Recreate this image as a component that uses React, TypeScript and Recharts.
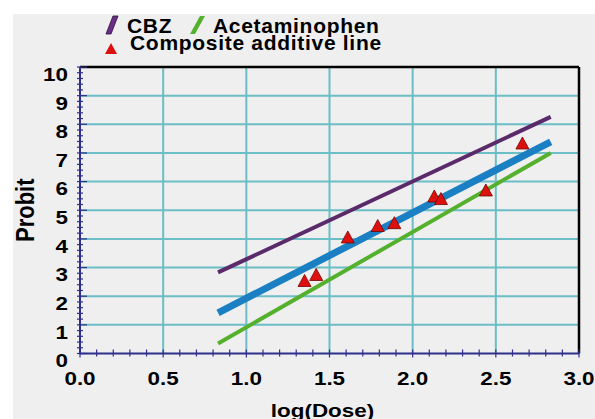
import { ComposedChart, Line, Scatter, XAxis, YAxis, ReferenceLine } from "recharts";

// fitted probit lines (two end points each)
const lineDose = [0.83, 2.83];
const cbzProbit = [2.83, 8.26];
const acetaminophenProbit = [0.35, 7.0];
const additiveProbit = [1.42, 7.39];

// composite additive line points
const pointDose = [1.35, 1.42, 1.61, 1.79, 1.89, 2.13, 2.17, 2.44, 2.66];
const pointProbit = [2.53, 2.74, 4.05, 4.45, 4.55, 5.48, 5.39, 5.69, 7.33];

const xTicks = [0, 0.5, 1, 1.5, 2, 2.5, 3];
const yTicks = [0, 1, 2, 3, 4, 5, 6, 7, 8, 9, 10];
const xAllTicks = Array.from({ length: 31 }, (_, i) => +(i * 0.1).toFixed(1));
const yAllTicks = Array.from({ length: 51 }, (_, i) => +(i * 0.2).toFixed(1));

const AXIS = "#2f2f8c";
const GRID = "#6bbdc6";
const FONT = "'Liberation Sans', Arial, sans-serif";

const toLine = (ys: number[]) => lineDose.map((x, i) => ({ x, y: ys[i] }));
const cbzData = toLine(cbzProbit);
const acetData = toLine(acetaminophenProbit);
const additiveData = toLine(additiveProbit);
const pointData = pointDose.map((x, i) => ({ x, y: pointProbit[i] }));

const isMajor = (list: number[], v: number) => list.some((t) => Math.abs(t - v) < 1e-6);

const XTick = (props: any) => {
  const { x, y, payload } = props;
  const major = isMajor(xTicks, payload.value);
  return (
    <g>
      <line x1={x} x2={x} y1={y - 4} y2={y + (major ? 4 : 3)} stroke={AXIS} strokeWidth={1.2} />
      {major && (
        <g transform={`translate(${x},${y + 24.5}) scale(1.18,1)`}>
          <text textAnchor="middle" dominantBaseline="central" fontFamily={FONT} fontWeight="bold" fontSize={19} fill="#000">
            {payload.value.toFixed(1)}
          </text>
        </g>
      )}
    </g>
  );
};

const YTick = (props: any) => {
  const { x, y, payload } = props;
  const major = isMajor(yTicks, payload.value);
  return (
    <g>
      <line x1={x - 3} x2={x + (major ? 7 : 3)} y1={y} y2={y} stroke={AXIS} strokeWidth={1.2} />
      {major && (
        <g transform={`translate(${x - 12},${y + 7}) scale(1.18,1)`}>
          <text textAnchor="end" dominantBaseline="central" fontFamily={FONT} fontWeight="bold" fontSize={19} fill="#000">
            {payload.value}
          </text>
        </g>
      )}
    </g>
  );
};

const Triangle = (props: any) => {
  const { cx, cy } = props;
  return (
    <polygon
      points={`${cx - 6.5},${cy + 5.5} ${cx + 6.5},${cy + 5.5} ${cx},${cy - 6.5}`}
      fill="#dd1010"
      stroke="#7a0000"
      strokeWidth={0.8}
    />
  );
};

export default function App() {
  return (
    <div style={{ position: "absolute", left: 0, top: 0, width: 595, height: 419, background: "#fff", overflow: "hidden" }}>
      <div style={{ position: "absolute", left: 13, top: 14, right: 0, bottom: 0, background: "#efefef" }} />
      <div style={{ position: "absolute", left: 0, top: 0 }}>
        <ComposedChart width={595} height={419} margin={{ top: 67, right: 16, bottom: 0, left: 0 }}>
          <XAxis
            type="number"
            dataKey="x"
            domain={[0, 3]}
            ticks={xAllTicks}
            interval={0}
            tickSize={0}
            tickMargin={0}
            tickLine={false}
            tick={(p: any) => <XTick {...p} />}
            height={65.5}
            axisLine={{ stroke: AXIS, strokeWidth: 2 }}
            label={{
              content: (p: any) => {
                const vb = p.viewBox;
                return (
                  <g transform={`translate(${vb.x + vb.width / 2 - 7},${417}) scale(1.18,1)`}>
                    <text textAnchor="middle" fontFamily={FONT} fontWeight="bold" fontSize={19} fill="#000">
                      log(Dose)
                    </text>
                  </g>
                );
              },
            }}
          />
          <YAxis
            type="number"
            dataKey="y"
            domain={[0, 10]}
            ticks={yAllTicks}
            interval={0}
            tickSize={0}
            tickMargin={0}
            tickLine={false}
            tick={(p: any) => <YTick {...p} />}
            width={80}
            axisLine={{ stroke: AXIS, strokeWidth: 2 }}
            label={{
              content: (p: any) => {
                const vb = p.viewBox;
                return (
                  <g transform={`translate(${25},${vb.y + vb.height / 2}) scale(1.18,1) rotate(-90)`}>
                    <text textAnchor="middle" dominantBaseline="central" fontFamily={FONT} fontWeight="bold" fontSize={22} fill="#000">
                      Probit
                    </text>
                  </g>
                );
              },
            }}
          />
          {xTicks.slice(1, -1).map((v) => (
            <ReferenceLine key={`gx-${v}`} x={v} stroke={GRID} strokeWidth={2} />
          ))}
          {yTicks.slice(1, -1).map((v) => (
            <ReferenceLine key={`gy-${v}`} y={v} stroke={GRID} strokeWidth={2} />
          ))}
          <ReferenceLine x={3} stroke="#000" strokeWidth={2.5} />
          <ReferenceLine y={10} stroke="#000" strokeWidth={2.5} />
          <Line data={cbzData} dataKey="y" stroke="#5b2a6b" strokeWidth={4} dot={false} activeDot={false} isAnimationActive={false} />
          <Line data={acetData} dataKey="y" stroke="#55b02e" strokeWidth={4} dot={false} activeDot={false} isAnimationActive={false} />
          <Line data={additiveData} dataKey="y" stroke="#1b7fc4" strokeWidth={7} dot={false} activeDot={false} isAnimationActive={false} />
          <Scatter data={pointData} dataKey="y" shape={(p: any) => <Triangle {...p} />} isAnimationActive={false} />
        </ComposedChart>
      </div>
      <svg width={595} height={60} style={{ position: "absolute", left: 0, top: 0 }}>
        <polygon points="106,34 111,34 118,16 113,16" fill="#6a2d86" stroke="#2a0a3a" strokeWidth={0.8} />
        <text x={127} y={33} fontFamily={FONT} fontWeight="bold" fontSize={21} letterSpacing={0.7} fill="#000">CBZ</text>
        <polygon points="190,34 195,34 205,16 200,16" fill="#55b02e" />
        <text x={213} y={33} fontFamily={FONT} fontWeight="bold" fontSize={21} letterSpacing={0.7} fill="#000">Acetaminophen</text>
        <polygon points="105,54 117,54 111,43" fill="#dd1010" />
        <text x={130} y={50} fontFamily={FONT} fontWeight="bold" fontSize={21} letterSpacing={0.7} fill="#000">Composite additive line</text>
      </svg>
    </div>
  );
}
